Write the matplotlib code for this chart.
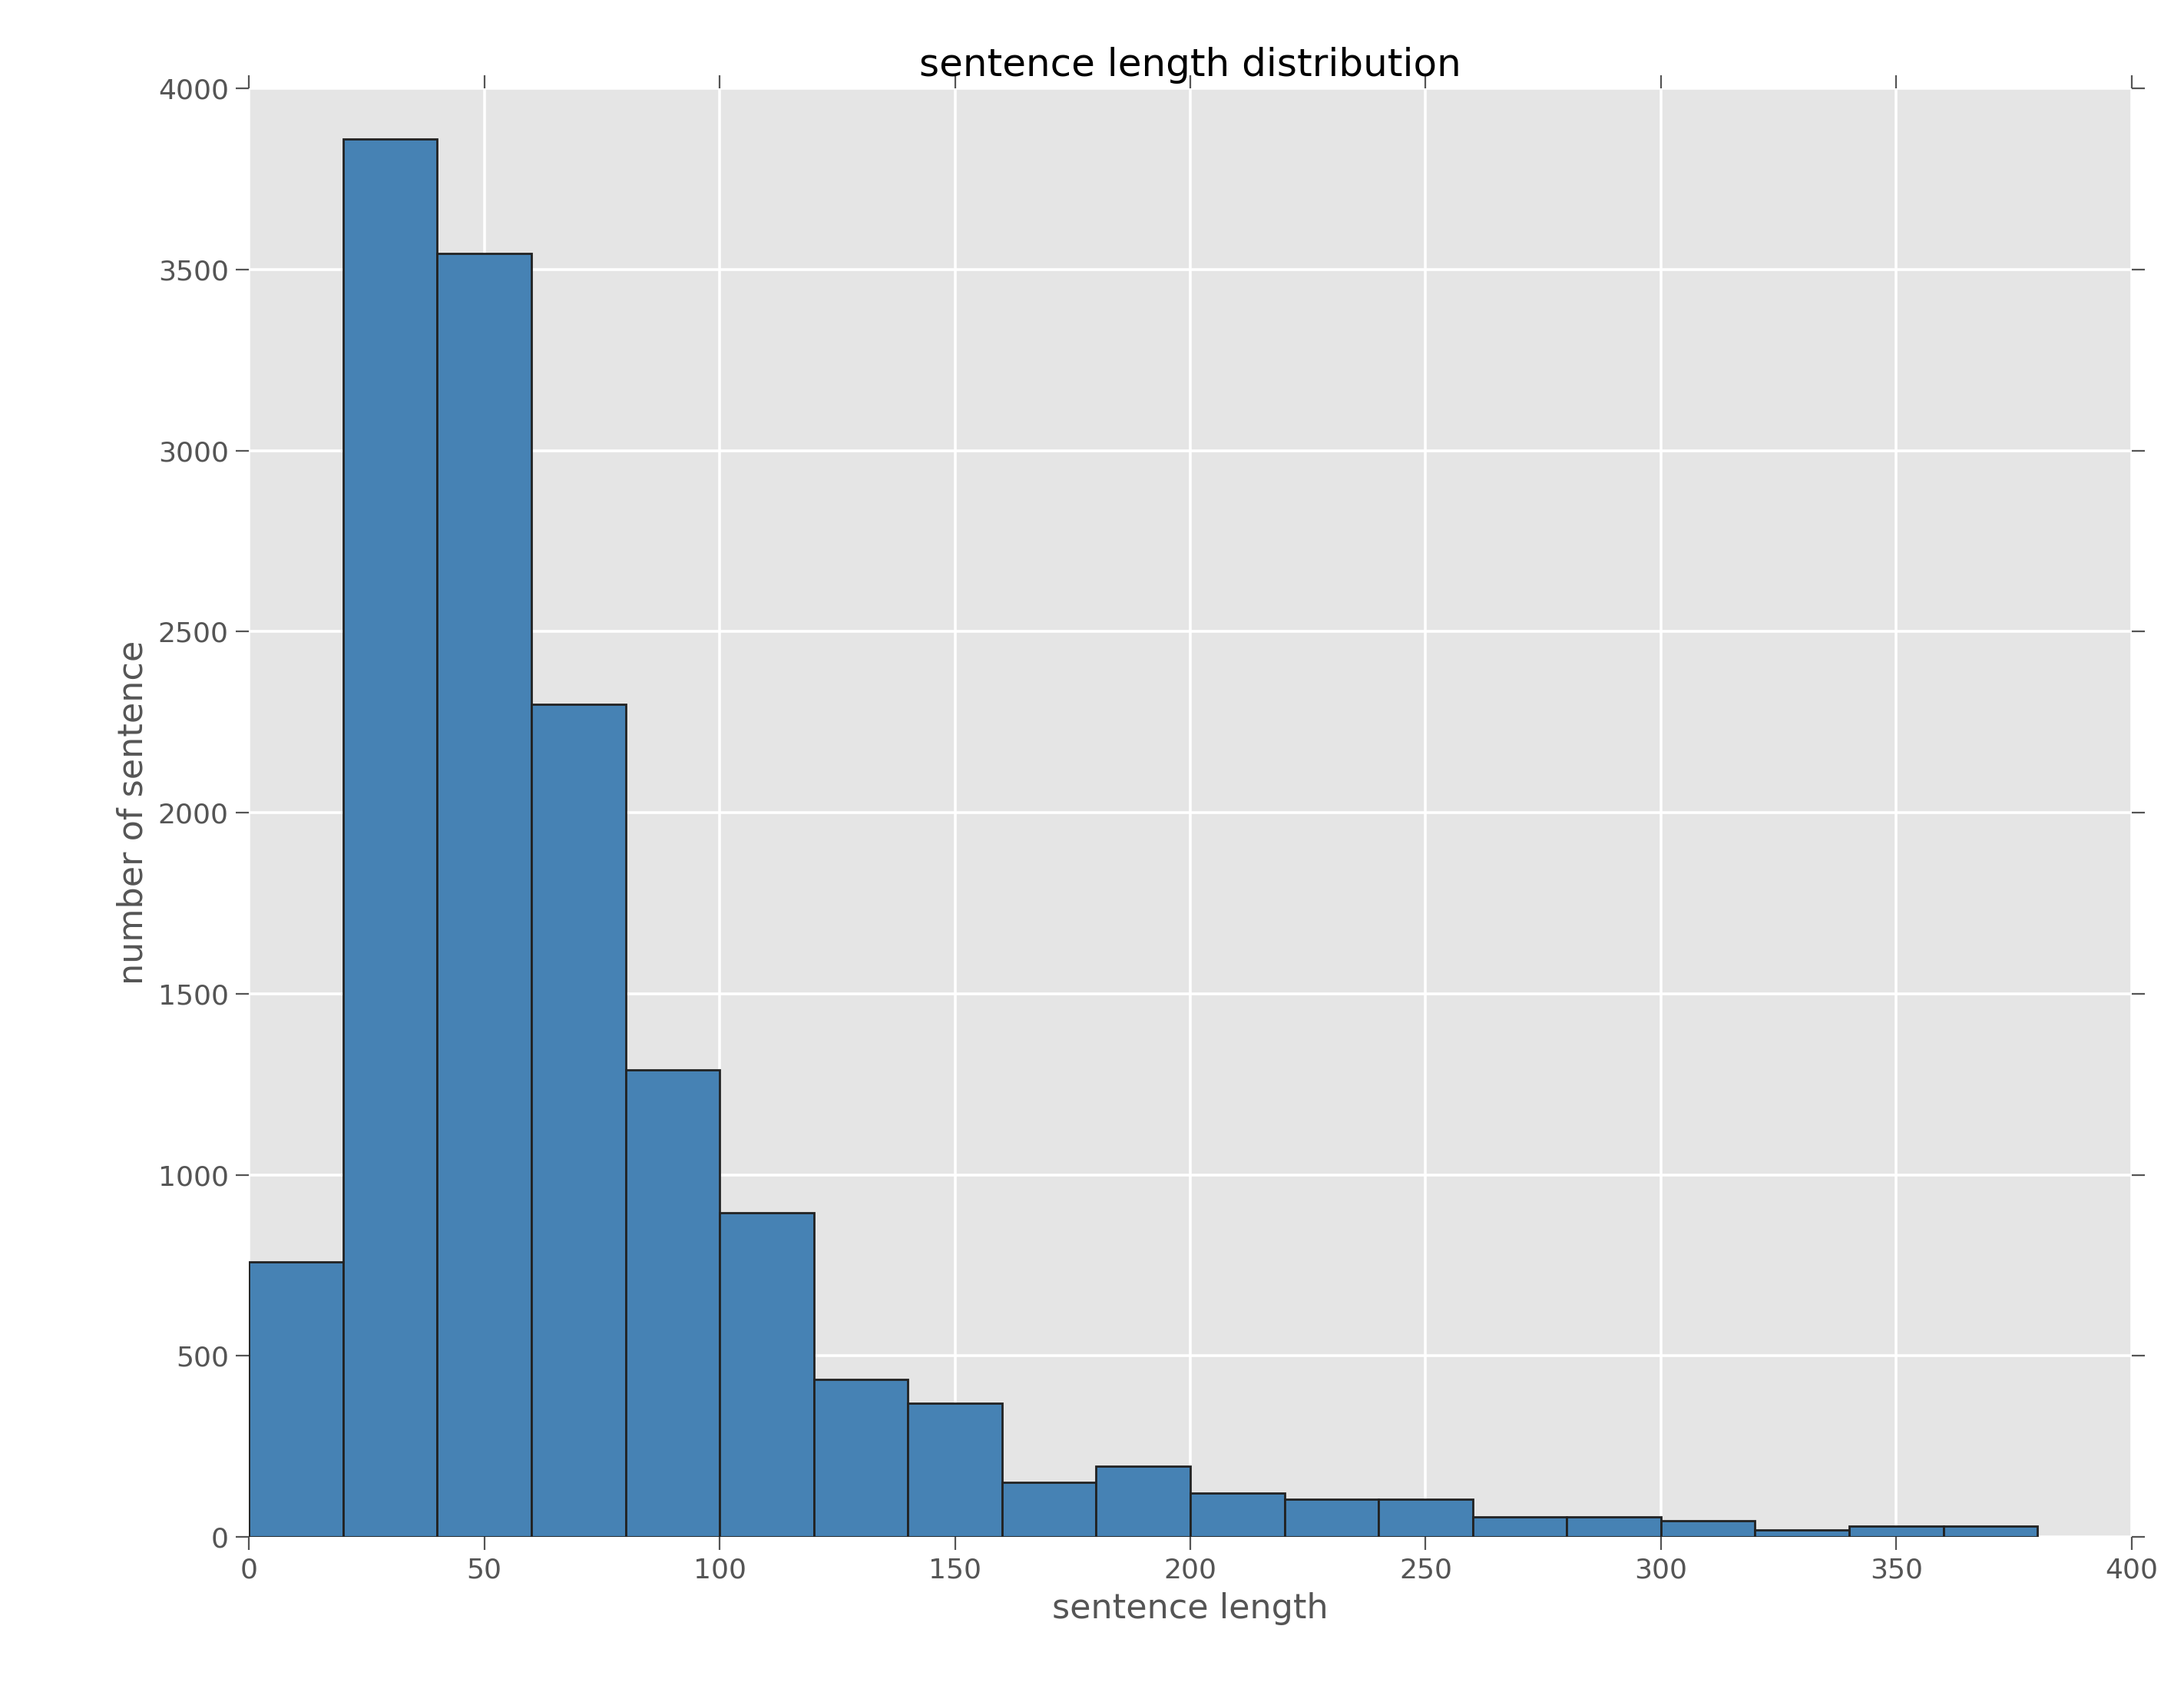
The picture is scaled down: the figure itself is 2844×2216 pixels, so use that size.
import matplotlib
matplotlib.use("Agg")
import matplotlib.pyplot as plt
import numpy as np

bin_edges = list(range(0, 400, 20))
counts = [760, 3860, 3545, 2300, 1290, 895, 435, 370, 150, 195, 120, 105, 105, 55, 55, 45, 20, 30, 30]

fig = plt.figure(figsize=(14.22, 11.08), dpi=200)
ax = fig.add_axes([0.114, 0.097, 0.862, 0.851])
ax.set_facecolor("#E5E5E5")
ax.grid(True, color="white", linewidth=1.3)
ax.set_axisbelow(True)
for s in ax.spines.values():
    s.set_visible(False)
ax.bar(bin_edges[:-1], counts, width=20, align="edge", color="#4682B4", edgecolor="#222222", linewidth=1.0)
ax.set_xlim(0, 400)
ax.set_ylim(0, 4000)
ax.set_xticks(range(0, 401, 50))
ax.set_yticks(range(0, 4001, 500))
ax.tick_params(direction="out", length=6, color="#555555", labelcolor="#555555", labelsize=13,
               top=True, right=True)
ax.set_title("sentence length distribution", fontsize=18, pad=6)
ax.set_xlabel("sentence length", fontsize=16, color="#555555")
ax.set_ylabel("number of sentence", fontsize=16, color="#555555")
fig.savefig("out.png", dpi=200)
